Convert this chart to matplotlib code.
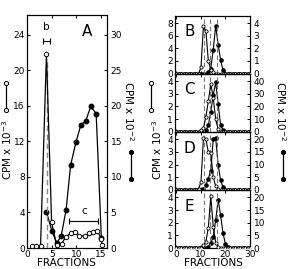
import matplotlib
matplotlib.use("Agg")
import matplotlib.pyplot as plt
from matplotlib.lines import Line2D
import numpy as np

plt.rcParams['font.family'] = ['DejaVu Sans']

# ---------------- Panel A data ----------------
a_open_x = [1.05, 1.86, 2.7, 3.9, 4.95, 5.96, 6.97, 7.8, 8.9, 9.8, 10.6, 11.7, 12.5, 13.3, 14.2, 15.05, 15.2]
a_open_y = [0.2, 0.2, 0.2, 21.8, 2.9, 0.3, 0.5, 1.2, 1.7, 1.8, 1.4, 1.35, 1.65, 1.85, 1.95, 1.05, 0.3]
a_fill_x = [3.9, 5.0, 6.0, 6.9, 7.9, 8.8, 9.9, 10.9, 11.9, 12.9, 14.0, 15.05]
a_fill_y = [5.1, 2.4, 0.7, 1.7, 5.4, 11.6, 14.9, 17.3, 17.9, 19.9, 18.9, 1.4]

# ---------------- Panels B-E data (fractions 0..30) ----------------
fractions = list(range(31))

def series(d):
    return [d.get(i, 0.0) for i in fractions]

b_open = series({10: 1.0, 11: 7.5, 12: 6.8, 13: 2.0, 14: 0.6, 15: 0.2})
b_fill = series({13: 0.1, 14: 0.4, 15: 1.9, 16: 3.8, 17: 2.3, 18: 1.1, 19: 0.25})
c_open = series({10: 0.1, 11: 0.3, 12: 1.2, 13: 2.4, 14: 3.8, 15: 2.7, 16: 1.0, 17: 0.2})
c_fill = series({12: 1.0, 13: 5.0, 14: 16.0, 15: 29.0, 16: 39.0, 17: 22.0, 18: 5.6, 19: 1.0})
d_open = series({9: 0.1, 10: 0.6, 11: 4.1, 12: 4.0, 13: 3.0, 14: 2.9, 15: 1.0, 16: 0.3, 17: 0.1})
d_fill = series({11: 0.5, 12: 2.0, 13: 4.5, 14: 7.6, 15: 20.0, 16: 20.5, 17: 10.0, 18: 3.8, 19: 1.0})
e_open = series({11: 0.2, 12: 0.5, 13: 1.6, 14: 4.1, 15: 1.7, 16: 0.4, 17: 0.1})
e_fill = series({13: 0.5, 14: 2.0, 15: 4.5, 16: 11.0, 17: 19.0, 18: 13.0, 19: 5.8, 20: 1.5, 21: 0.5})

panel_names = ['B', 'C', 'D', 'E']
panel_open = [b_open, c_open, d_open, e_open]
panel_fill = [b_fill, c_fill, d_fill, e_fill]
left_ticks = [[0, 2, 4, 6, 8], [0, 1, 2, 3, 4], [0, 1, 2, 3, 4], [0, 1, 2, 3, 4]]
right_ticks = [[0, 1, 2, 3, 4], [0, 10, 20, 30, 40], [0, 5, 10, 15, 20], [0, 5, 10, 15, 20]]
right_scale = [0.5, 10, 5, 5]
left_top = [9.2, 4.6, 4.6, 4.6]
dash_x = [11.3, 13.5, 16.4]

A_left_ticks = [0, 4, 8, 12, 16, 20, 24]
A_right_ticks = [0, 5, 10, 15, 20, 25, 30]

W, H = 292, 269
fig = plt.figure(figsize=(W / 100, H / 100), dpi=100)

def fx(px):
    return px / W

def fy(py):
    return 1 - py / H

lw = 0.9
ms_a = 3.2
ms_b = 2.3
tfs = 6.5

def style(ax, ax2):
    ax.tick_params(direction='in', length=2.5, width=0.7, labelsize=tfs, top=True, pad=1.5)
    ax2.tick_params(direction='in', length=2.5, width=0.7, labelsize=tfs, pad=2.5)
    for sp in ax.spines.values():
        sp.set_linewidth(0.8)
    for sp in ax2.spines.values():
        sp.set_linewidth(0.8)
    ax.set_zorder(ax2.get_zorder() + 1)
    ax.patch.set_visible(False)

# ---------------- Panel A ----------------
axA = fig.add_axes([fx(27), fy(248), fx(107) - fx(27), fy(15) - fy(248)])
axA2 = axA.twinx()
axA.set_xlim(-0.05, 16.2)
axA.set_ylim(0, 26.2)
axA2.set_ylim(0, 26.2 * 1.25)
axA.set_yticks(A_left_ticks)
axA2.set_yticks(A_right_ticks)
axA.set_xticks([0, 5, 10, 15])
axA.vlines(4.0, 0, 21, colors='#888888', linestyles=(0, (4, 2.5)), linewidth=1.0, zorder=1)
axA2.plot(a_fill_x, a_fill_y, '-o', color='black', lw=lw, ms=ms_a, mfc='black', mec='black')
axA.plot(a_open_x, a_open_y, '-o', color='black', lw=lw, ms=ms_a, mfc='white', mec='black', mew=0.7, zorder=3)
axA.errorbar(3.9, 23.3, xerr=0.7, fmt='none', ecolor='black', elinewidth=0.8, capsize=2.5, capthick=0.8)
axA.text(3.9, 24.3, 'b', ha='center', va='bottom', fontsize=7.5)
axA.errorbar(11.45, 3.0, xerr=2.95, fmt='none', ecolor='black', elinewidth=0.8, capsize=2.5, capthick=0.8)
axA.text(11.5, 3.6, 'c', ha='center', va='bottom', fontsize=7.5)
axA.text(12.2, 24.4, 'A', ha='center', va='center', fontsize=11)
style(axA, axA2)
fig.text(fx(66), fy(263.5), 'FRACTIONS', ha='center', va='center', fontsize=7.5)

# ---------------- Panels B-E ----------------
top_px, bot_px = 15.5, 248
ph = (bot_px - top_px) / 4
axes = []
for i in range(4):
    t = top_px + i * ph
    ax = fig.add_axes([fx(175), fy(t + ph), fx(250) - fx(175), fy(t) - fy(t + ph)])
    ax2 = ax.twinx()
    ax.set_xlim(-0.6, 29.8)
    ax.set_ylim(0, left_top[i])
    ax2.set_ylim(0, left_top[i] * right_scale[i])
    ax.set_yticks(left_ticks[i])
    ax2.set_yticks(right_ticks[i])
    ax.set_xticks([0, 10, 20, 30])
    for dx in dash_x:
        ax.axvline(dx, color='#777777', ls=(0, (4, 2.5)), lw=0.8, zorder=1)
    ax2.plot(fractions, panel_fill[i], '-o', color='black', lw=0.8, ms=ms_b, mfc='black', mec='black')
    ax.plot(fractions, panel_open[i], '-o', color='black', lw=0.8, ms=ms_b, mfc='white', mec='black', mew=0.6, zorder=3)
    ax.text(5.3, left_top[i] * 0.72, panel_names[i], ha='center', va='center', fontsize=11)
    style(ax, ax2)
    if i < 3:
        ax.tick_params(labelbottom=False)
    axes.append(ax)
fig.text(fx(213), fy(263.5), 'FRACTIONS', ha='center', va='center', fontsize=7.5)

# ---------------- axis titles and key symbols ----------------
ylab = 'CPM x 10$^{-3}$'
rlab = 'CPM x 10$^{-2}$'
fig.text(fx(7), fy(150), ylab, rotation=90, ha='center', va='center', fontsize=7.5)
fig.text(fx(129), fy(111), rlab, rotation=-90, ha='center', va='center', fontsize=7.5)
fig.text(fx(157), fy(150), ylab, rotation=90, ha='center', va='center', fontsize=7.5)
fig.text(fx(281), fy(111), rlab, rotation=-90, ha='center', va='center', fontsize=7.5)

for x0, filled in [(5.5, False), (131, True), (151, False), (283, True)]:
    if filled:
        y1, y2 = 152, 179
    else:
        y1, y2 = 83, 110
    fig.add_artist(Line2D([fx(x0), fx(x0)], [fy(y1), fy(y2)], transform=fig.transFigure,
                          color='black', lw=0.9, marker='o', ms=3,
                          mfc='black' if filled else 'white', mec='black', mew=0.7))

fig.savefig('out.png', dpi=100)
